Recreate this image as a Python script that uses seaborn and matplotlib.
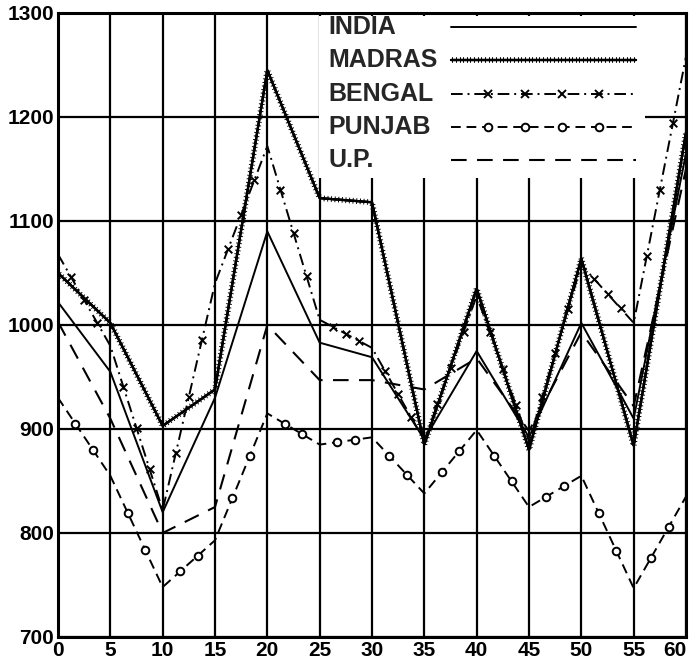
import numpy as np
import matplotlib
matplotlib.use("Agg")
import matplotlib.pyplot as plt
import matplotlib.patheffects as pe
from matplotlib.patches import Rectangle
import seaborn as sns

# ages (years) and persons per age
AGES = [0, 5, 10, 15, 20, 25, 30, 35, 40, 45, 50, 55, 60]
INDIA = [1022, 955, 820, 930, 1090, 983, 969, 890, 975, 892, 1002, 910, 1165]
MADRAS = [1050, 1002, 903, 938, 1245, 1122, 1118, 885, 1035, 880, 1064, 884, 1185]
BENGAL = [1068, 980, 822, 1040, 1172, 1005, 978, 889, 1028, 888, 1058, 1002, 1258]
PUNJAB = [930, 855, 748, 793, 915, 885, 892, 838, 899, 825, 855, 747, 835]
UP = [1003, 910, 800, 825, 1000, 947, 947, 938, 968, 898, 993, 922, 1150]

LABELS = ["INDIA", "MADRAS", "BENGAL", "PUNJAB", "U.P."]
X_TICKS = list(range(0, 61, 5))
Y_TICKS = list(range(700, 1301, 100))

sns.set_theme(style="white")
plt.rcParams['font.family'] = ['Liberation Sans', 'DejaVu Sans']
plt.rcParams['font.weight'] = 'bold'

fig = plt.figure(figsize=(6.93, 6.62), dpi=100)
ax = fig.add_axes([58 / 693, 25 / 662, 628 / 693, 624 / 662])

# line styles
madras_fx = [pe.withTickedStroke(angle=90, spacing=2.6, length=0.7, linewidth=0.7),
             pe.withTickedStroke(angle=-90, spacing=2.6, length=0.7, linewidth=0.7),
             pe.Normal()]
styles = {
    "INDIA": dict(lw=1.4, linestyle='-'),
    "MADRAS": dict(lw=1.6, linestyle='-', path_effects=madras_fx),
    "BENGAL": dict(lw=1.4, linestyle=(0, (6, 2.5, 1, 2.5))),
    "PUNJAB": dict(lw=1.4, linestyle=(0, (5, 3))),
    "U.P.": dict(lw=1.5, linestyle=(0, (7.5, 5))),
}
series = dict(zip(LABELS, [INDIA, MADRAS, BENGAL, PUNJAB, UP]))


def along(values, per_seg):
    # decorative marker spots between the 5-year points
    step = 5 / (per_seg + 1)
    fine = np.arange(0, 60, step)
    fine = fine[np.abs(fine / 5 - np.round(fine / 5)) > 1e-6]
    return fine, np.interp(fine, AGES, values)


for name in LABELS:
    sns.lineplot(x=AGES, y=series[name], color='black', zorder=3, ax=ax, **styles[name])

bx, by = along(BENGAL, 3)
sns.scatterplot(x=bx, y=by, marker='x', s=30, color='black', linewidth=1.4, zorder=4, ax=ax)
px, py = along(PUNJAB, 2)
sns.scatterplot(x=px, y=py, marker='o', s=30, facecolor='white', edgecolor='black',
                linewidth=1.4, zorder=4, ax=ax)

ax.set_xlim(0, 60)
ax.set_ylim(700, 1300)
ax.set_xticks(X_TICKS)
ax.set_yticks(Y_TICKS)
ax.set_xlabel('')
ax.set_ylabel('')
ax.grid(True, color='black', lw=1.6)
ax.set_axisbelow(True)
ax.tick_params(length=0, labelsize=15, pad=3, colors='black')
ax.get_xticklabels()[-1].set_horizontalalignment('right')
for s in ax.spines.values():
    s.set_color('black')
    s.set_linewidth(2.2)

# legend drawn by hand: text left-aligned, key lines on the right
ax.add_patch(Rectangle((0.415, 0.735), 0.52, 0.26, transform=ax.transAxes,
                       facecolor='white', edgecolor='none', zorder=1.5))
rows = [0.977, 0.925, 0.870, 0.817, 0.765]
kx0, kx1 = 0.625, 0.920
for name, y in zip(LABELS, rows):
    ax.text(0.430, y, name, transform=ax.transAxes, fontsize=18, fontweight='bold',
            va='center', ha='left', zorder=4)
    ax.plot([kx0, kx1], [y, y], transform=ax.transAxes, color='black', zorder=3, **styles[name])
    mx = np.linspace(kx0, kx1, 6)[1:-1]
    if name == "BENGAL":
        ax.plot(mx, [y] * 4, transform=ax.transAxes, ls='none', marker='x', ms=5.5,
                mew=1.4, color='black', zorder=4)
    if name == "PUNJAB":
        ax.plot(mx, [y] * 4, transform=ax.transAxes, ls='none', marker='o', ms=5.5,
                mew=1.4, mfc='white', mec='black', zorder=4)

fig.savefig('out.png', dpi=100)
